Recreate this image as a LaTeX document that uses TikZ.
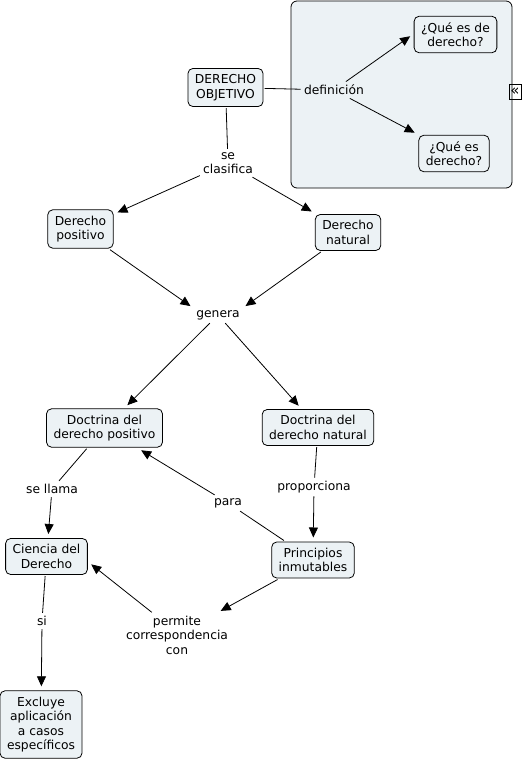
\documentclass[tikz,border=0pt]{standalone}
\usepackage{fontspec}
\setmainfont{DejaVu Sans}
\usetikzlibrary{arrows.meta}
\definecolor{conceptfill}{RGB}{236,242,245}
\tikzset{
  concept/.style={draw, fill=conceptfill, rounded corners=5pt, align=center,
    inner xsep=7pt, inner ysep=6pt, outer sep=1.5pt, font=\fontsize{12.3}{14.5}\selectfont},
  linkword/.style={align=center, inner sep=3pt, font=\fontsize{12.3}{14.5}\selectfont},
  arrow/.style={-{Triangle[length=10pt,width=9pt]}, shorten >=3pt},
}

\begin{document}
\begin{tikzpicture}[x=1pt, y=-1pt, line width=0.8pt]
\useasboundingbox (0,0) rectangle (524,763);

% Draw the panel round the definitions
\draw[fill=conceptfill, rounded corners=6pt] (291,1) rectangle (512,188);
\node[draw, line width=0.6pt, minimum width=12pt, minimum height=15pt, inner sep=0pt,
  font=\fontsize{15}{15}\selectfont] (fold) at (515,91.5) {«};

% Draw the concepts
\node[concept] (obj) at (225.5,87.5) {DERECHO\\OBJETIVO};
\node[concept] (q1) at (455.5,34.5) {¿Qué es de\\derecho?};
\node[concept] (q2) at (454,153.5) {¿Qué es\\derecho?};
\node[concept] (dpos) at (80.5,229) {Derecho\\positivo};
\node[concept] (dnat) at (348,232.5) {Derecho\\natural};
\node[concept] (docpos) at (104.5,428) {Doctrina del\\derecho positivo};
\node[concept] (docnat) at (318,427.5) {Doctrina del\\derecho natural};
\node[concept] (cien) at (46.5,556.5) {Ciencia del\\Derecho};
\node[concept] (princ) at (313,560) {Principios\\inmutables};
\node[concept] (excl) at (41,724.5) {Excluye\\aplicación\\a casos\\específicos};

% Draw the linking words
\node[linkword] (def) at (334,90) {definición};
\node[linkword] (sec) at (228,163) {se\\clasifica};
\node[linkword] (gen) at (218,315) {genera};
\node[linkword] (sell) at (52,489) {se llama};
\node[linkword] (prop) at (314,487) {proporciona};
\node[linkword] (para) at (228,503) {para};
\node[linkword] (perm) at (177,635) {permite\\correspondencia\\con};
\node[linkword] (si) at (42,621) {si};

% Draw the connectors
\draw (obj) -- (def);
\draw[arrow] (def) -- (q1.west);
\draw[arrow] (def) -- (q2);
\draw (obj) -- (sec);
\draw[arrow] (sec) -- (dpos);
\draw[arrow] (sec) -- (dnat);
\draw[arrow] (dpos) -- (gen.164);
\draw[arrow] (dnat) -- (gen.16);
\draw[arrow] (gen) -- (docpos);
\draw[arrow] (gen) -- (docnat);
\draw (docpos) -- (sell);
\draw[arrow] (sell) -- (cien);
\draw (docnat) -- (prop);
\draw[arrow] (prop) -- (princ);
\draw (princ) -- (para);
\draw[arrow] (para) -- (docpos);
\draw[arrow] (princ) -- (perm);
\draw[arrow] (perm.138) -- (cien.-8);
\draw (cien) -- (si);
\draw[arrow] (si) -- (excl);

\end{tikzpicture}
\end{document}
